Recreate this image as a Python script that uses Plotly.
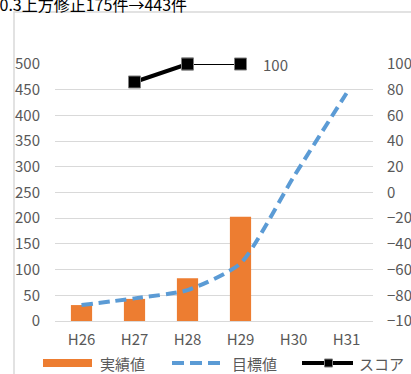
import plotly.graph_objects as go

# Fiscal years (Heisei era)
years = ["H26", "H27", "H28", "H29", "H30", "H31"]
# Actual counts (bars, left axis)
actual = [31, 43, 83, 203, None, None]
# Target counts (dashed line, left axis)
target = [31, 44, 60, 112, 280, 443]
# Score (right axis)
score = [None, 86, 100, 100, None, None]

series_names = ["実績値", "目標値", "スコア"]
BAR_COLOR = "#ED7D31"
TARGET_COLOR = "#5B9BD5"
SCORE_COLOR = "black"

FONT = "Noto Sans CJK JP"
GRAY = "#595959"
GRID = "#d9d9d9"

W, H = 411, 374
ML, MR, MT, MB = 55, 38, 64, 53
PW, PH = W - ML - MR, H - MT - MB


def px_x(px):
    return (px - ML) / PW


def px_y(py):
    return (H - MB - py) / PH


fig = go.Figure()

fig.add_trace(go.Bar(
    x=years, y=actual, name=series_names[0],
    marker=dict(color=BAR_COLOR, line=dict(width=0)),
    width=0.4,
))

fig.add_trace(go.Scatter(
    x=years, y=target, name=series_names[1], mode="lines",
    line=dict(color=TARGET_COLOR, width=4, dash="11px,6px",
              shape="spline", smoothing=0.6),
))

# Score: thick segment H27-H28, thin segment H28-H29
score_a = [v if i <= 2 else None for i, v in enumerate(score)]
score_b = [v if i >= 2 else None for i, v in enumerate(score)]
marker = dict(symbol="square", size=12, color="black",
              line=dict(color="#7f7f7f", width=1))
fig.add_trace(go.Scatter(
    x=years, y=score_a, name=series_names[2], mode="lines+markers",
    line=dict(color=SCORE_COLOR, width=4), marker=marker, yaxis="y2",
    cliponaxis=False,
))
fig.add_trace(go.Scatter(
    x=years, y=score_b, name=series_names[2], mode="lines+markers",
    line=dict(color=SCORE_COLOR, width=2), marker=marker, yaxis="y2",
    cliponaxis=False,
))

last_i = max(i for i, v in enumerate(score) if v is not None)
fig.add_annotation(
    x=years[last_i], y=score[last_i], yref="y2", xref="x",
    text=f"{score[last_i]}", showarrow=False, xanchor="left",
    xshift=20, font=dict(family=FONT, size=15, color=GRAY),
)

# Header text
fig.add_annotation(
    xref="paper", yref="paper", x=px_x(189), y=px_y(4),
    xanchor="right", yanchor="middle", showarrow=False,
    text="H30.3上方修正175件→443件",
    font=dict(family=FONT, size=16, color="black"),
)

# Chart frame
fig.add_shape(
    type="rect", xref="paper", yref="paper",
    x0=px_x(14), x1=px_x(W + 5), y0=px_y(H + 5), y1=px_y(12),
    line=dict(color=GRID, width=1.5), layer="below",
)

# Legend keys along the bottom
LY = 363
fig.add_shape(type="rect", xref="paper", yref="paper",
              x0=px_x(43), x1=px_x(92), y0=px_y(367), y1=px_y(359),
              fillcolor=BAR_COLOR, line=dict(width=0))
fig.add_shape(type="line", xref="paper", yref="paper",
              x0=px_x(172), x1=px_x(220), y0=px_y(LY), y1=px_y(LY),
              line=dict(color=TARGET_COLOR, width=4, dash="12px,6px"))
fig.add_shape(type="line", xref="paper", yref="paper",
              x0=px_x(302), x1=px_x(353), y0=px_y(LY), y1=px_y(LY),
              line=dict(color=SCORE_COLOR, width=4))
fig.add_shape(type="rect", xref="paper", yref="paper",
              x0=px_x(324.5), x1=px_x(332.5), y0=px_y(LY + 4), y1=px_y(LY - 4),
              fillcolor="black", line=dict(color="#7f7f7f", width=1))
for name, lx in zip(series_names, [98, 230, 357]):
    fig.add_annotation(
        xref="paper", yref="paper", x=px_x(lx), y=px_y(LY),
        xanchor="left", yanchor="middle", showarrow=False, text=name,
        font=dict(family=FONT, size=15, color=GRAY),
    )

fig.update_layout(
    width=W, height=H,
    margin=dict(l=ML, r=MR, t=MT, b=MB, autoexpand=False),
    paper_bgcolor="white", plot_bgcolor="white",
    font=dict(family=FONT, size=15, color=GRAY),
    showlegend=False,
    xaxis=dict(showgrid=False, showline=False, ticks="",
               tickfont=dict(size=15, color=GRAY), ticklabelstandoff=8,
               automargin=False),
    yaxis=dict(range=[0, 500], dtick=50, showgrid=True, gridcolor=GRID,
               gridwidth=1, zeroline=True, zerolinecolor=GRID,
               zerolinewidth=1, showline=False, ticks="",
               tickfont=dict(size=15, color=GRAY), ticklabelstandoff=14,
               automargin=False),
    yaxis2=dict(range=[-100, 100], dtick=20, overlaying="y", side="right",
                showgrid=False, zeroline=False, showline=False, ticks="",
                tickfont=dict(size=15, color=GRAY), ticklabelstandoff=13,
                automargin=False),
)

fig.write_html("out.html")
